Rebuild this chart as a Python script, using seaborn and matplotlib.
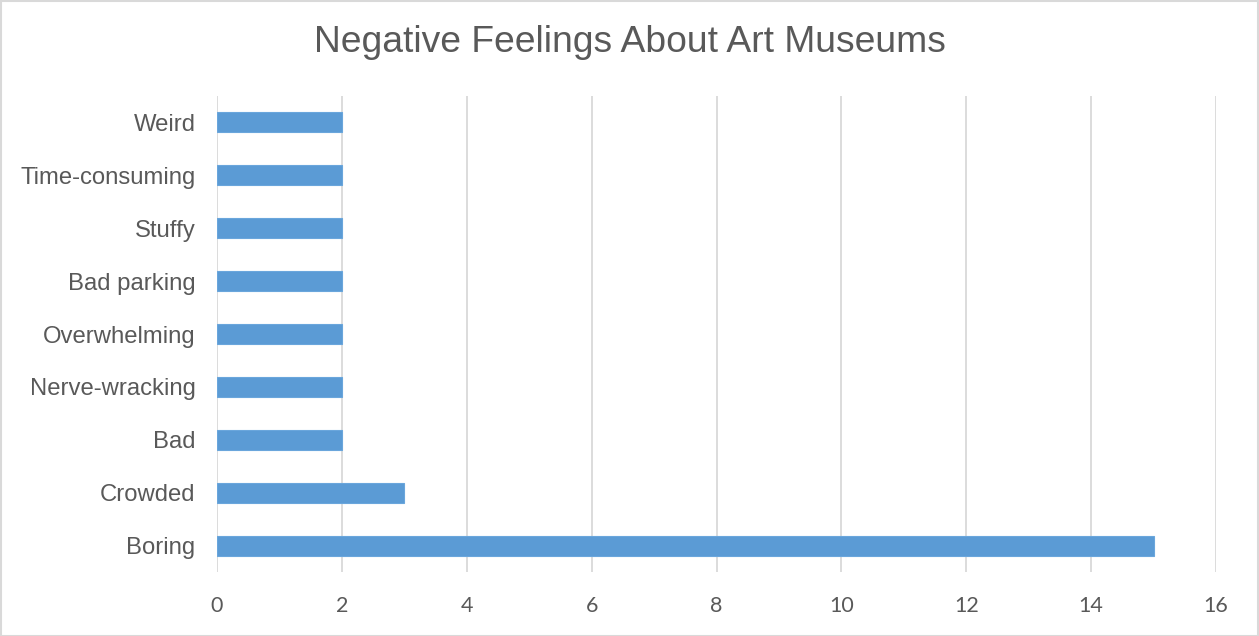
import matplotlib
matplotlib.use("Agg")
import matplotlib.pyplot as plt
import seaborn as sns
import pandas as pd
from matplotlib.patches import Rectangle

categories = ["Weird", "Time-consuming", "Stuffy", "Bad parking", "Overwhelming",
              "Nerve-wracking", "Bad", "Crowded", "Boring"]
counts = [2, 2, 2, 2, 2, 2, 2, 3, 15]
x_ticks = [0, 2, 4, 6, 8, 10, 12, 14, 16]

df = pd.DataFrame({"feeling": categories, "count": counts})

sns.set_theme(style="white")
plt.rcParams["font.family"] = ["Liberation Sans", "DejaVu Sans"]

fig = plt.figure(figsize=(12.59, 6.36), dpi=100)
ax = fig.add_axes([217 / 1259, 1 - 572 / 636, (1216 - 217) / 1259, (572 - 96) / 636])

sns.barplot(data=df, x="count", y="feeling", orient="h", color="#5B9BD5",
            saturation=1, width=0.38, ax=ax, order=categories, edgecolor="#6aa6dc",
            linewidth=0.8)

ax.set_xlim(0, 16)
ax.set_xticks(x_ticks)
ax.set_xticklabels([str(t) for t in x_ticks], fontsize=15.5, color="#595959",
                   family=["Lato", "DejaVu Sans"])
ax.tick_params(axis="x", length=0, pad=17)
ax.tick_params(axis="y", length=0, pad=15.5, labelsize=17.2, labelcolor="#595959")
ax.xaxis.grid(True, color="#d9d9d9", linewidth=1.3)
ax.yaxis.grid(False)
ax.set_axisbelow(True)
for s in ax.spines.values():
    s.set_visible(False)
ax.set_xlabel("")
ax.set_ylabel("")

fig.text(0.5, 1 - 43 / 636, "Negative Feelings About Art Museums", ha="center", va="center",
         fontsize=26.8, color="#595959")

fig.patches.append(Rectangle((0.5 / 1259, 0.5 / 636), 1 - 1.5 / 1259, 1 - 1.5 / 636,
                             transform=fig.transFigure, fill=False,
                             edgecolor="#d9d9d9", linewidth=1.5))

fig.savefig("out.png", dpi=100, facecolor="white")
